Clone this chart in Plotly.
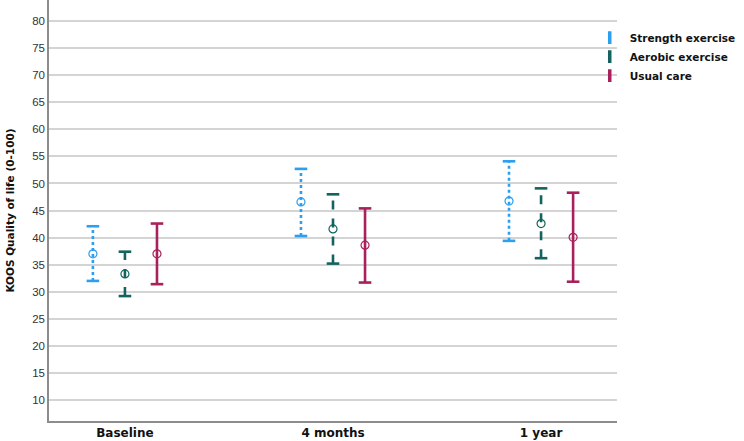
import plotly.graph_objects as go

categories = ["Baseline", "4 months", "1 year"]
groups = ["Strength exercise", "Aerobic exercise", "Usual care"]

strength_mean = [37.0, 46.6, 46.75]
strength_lo = [32.0, 40.3, 39.4]
strength_hi = [42.1, 52.7, 54.1]

aerobic_mean = [33.3, 41.6, 42.6]
aerobic_lo = [29.2, 35.2, 36.2]
aerobic_hi = [37.4, 48.0, 49.1]

usual_mean = [37.0, 38.6, 40.05]
usual_lo = [31.4, 31.7, 31.85]
usual_hi = [42.6, 45.4, 48.3]

yticks = [10, 15, 20, 25, 30, 35, 40, 45, 50, 55, 60, 65, 70, 75, 80]

series = [
    (groups[0], strength_mean, strength_lo, strength_hi, "#2b9ff0", "dot", -0.154),
    (groups[1], aerobic_mean, aerobic_lo, aerobic_hi, "#15635f", "dash", 0.0),
    (groups[2], usual_mean, usual_lo, usual_hi, "#a8205c", "solid", 0.154),
]

fig = go.Figure()
for name, mean, lo, hi, color, dash, off in series:
    for i in range(len(categories)):
        x = i + off
        fig.add_trace(go.Scatter(
            x=[x, x], y=[lo[i], hi[i]], mode="lines",
            line=dict(color=color, width=2.6, dash=dash),
            showlegend=False, hoverinfo="skip"))
    xs = [i + off for i in range(len(categories))]
    fig.add_trace(go.Scatter(
        x=xs + xs, y=lo + hi, mode="markers",
        marker=dict(symbol="line-ew", size=9, color=color,
                    line=dict(color=color, width=2.6)),
        showlegend=False, hoverinfo="skip"))
    fig.add_trace(go.Scatter(
        x=xs, y=mean, mode="markers",
        marker=dict(symbol="circle-open", size=8, color=color,
                    line=dict(color=color, width=1.2)),
        showlegend=False))
    fig.add_trace(go.Scatter(
        x=[None], y=[None], mode="markers", name=f"<b>{name}</b>",
        marker=dict(symbol="line-ns", size=9, color=color,
                    line=dict(color=color, width=3.5)),
        showlegend=True))

fig.update_layout(
    width=744, height=441,
    margin=dict(l=49, r=127, t=0, b=20, autoexpand=False),
    plot_bgcolor="white", paper_bgcolor="white",
    showlegend=True,
    legend=dict(x=0.952, y=0.945, xanchor="left", yanchor="top",
                font=dict(family="DejaVu Sans", size=10.5, color="#111"),
                itemwidth=30, tracegroupgap=0, bgcolor="rgba(0,0,0,0)"),
    font=dict(family="Liberation Sans", color="#333"),
)
fig.update_xaxes(
    range=[-0.365, 2.365], tickvals=[0, 1, 2], ticktext=[f"<b>{c}</b>" for c in categories],
    showgrid=False, zeroline=False, showline=True, linecolor="#8c8c8c", linewidth=1.5,
    ticks="", ticklen=0, automargin=False,
    tickfont=dict(family="DejaVu Sans", size=12, color="#111"),
)
fig.update_yaxes(
    range=[6.12, 83.9], tickvals=yticks, automargin=False,
    showgrid=True, gridcolor="#d4d4d4", gridwidth=1.5, zeroline=False,
    showline=True, linecolor="#8c8c8c", linewidth=1.5, ticks="",
    tickfont=dict(family="Liberation Sans", size=11.5, color="#333"),
    title=dict(text="<b>KOOS Quality of life (0-100)</b>", standoff=15,
               font=dict(family="DejaVu Sans", size=10.5, color="#111")),
)
fig.write_html("out.html", config={"displayModeBar": False},
               post_script="document.body.style.margin='0';")
